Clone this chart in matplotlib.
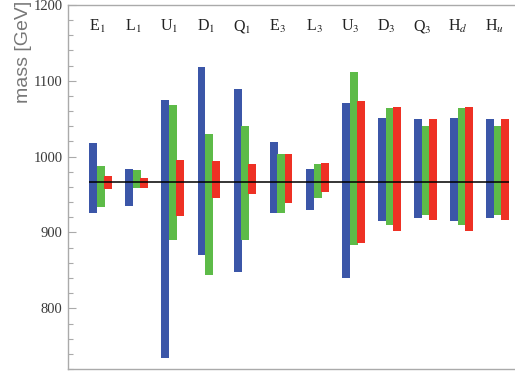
import matplotlib.pyplot as plt
import numpy as np
from matplotlib.ticker import MultipleLocator

plt.rcParams["mathtext.fontset"] = "stix"

# particle labels along the top
labels = [r"E$_1$", r"L$_1$", r"U$_1$", r"D$_1$", r"Q$_1$", r"E$_3$",
          r"L$_3$", r"U$_3$", r"D$_3$", r"Q$_3$", r"H$_d$", r"H$_u$"]

# mass ranges [GeV] for the three scenarios (low, high)
blue_lo = [926, 935, 735, 870, 848, 925, 929, 840, 915, 919, 915, 919]
blue_hi = [1018, 984, 1075, 1118, 1089, 1019, 984, 1070, 1051, 1049, 1051, 1049]
green_lo = [933, 958, 890, 844, 890, 925, 946, 884, 910, 923, 910, 923]
green_hi = [988, 982, 1068, 1030, 1040, 1004, 990, 1112, 1064, 1040, 1064, 1040]
red_lo = [957, 959, 922, 945, 951, 939, 953, 886, 902, 917, 902, 917]
red_hi = [974, 972, 995, 994, 990, 1004, 991, 1073, 1065, 1049, 1065, 1049]

reference_mass = 967

colors = {"blue": "#3b56a8", "green": "#5dbb48", "red": "#ee3124"}

fig = plt.figure(figsize=(5.15, 3.72), dpi=100)
ax = fig.add_axes([0.132, 0.008, 0.868, 0.979])

x = np.arange(len(labels))
w = 0.22
series = [
    (blue_lo, blue_hi, colors["blue"], -0.215),
    (green_lo, green_hi, colors["green"], 0.0),
    (red_lo, red_hi, colors["red"], 0.195),
]
for lo, hi, c, off in series:
    lo = np.array(lo)
    hi = np.array(hi)
    ax.bar(x + off, hi - lo, bottom=lo, width=w, color=c, linewidth=0, zorder=2)

ax.hlines(reference_mass, x[0] - 0.33, x[-1] + 0.3, color="black", linewidth=1.1, zorder=3)

for xi, lab in zip(x, labels):
    ax.text(xi - 0.1, 1171, lab, ha="center", va="center", fontsize=11.5,
            family="Liberation Serif", color="#222222")

ax.set_xlim(-0.914, 11.47)
ax.set_ylim(720, 1200)
ax.set_xticks([])
ax.yaxis.set_major_locator(MultipleLocator(100))
ax.yaxis.set_minor_locator(MultipleLocator(20))
ax.tick_params(axis="y", which="major", direction="in", length=6, width=0.8,
               color="#aaaaaa", labelsize=10.5, labelcolor="#3a3a3a", pad=4)
ax.tick_params(axis="y", which="minor", direction="in", length=3.5, width=0.8,
               color="#aaaaaa")
for t in ax.get_yticklabels():
    t.set_family("Liberation Serif")

for side in ["left", "top", "bottom"]:
    ax.spines[side].set_color("#aaaaaa")
    ax.spines[side].set_linewidth(1.0)
ax.spines["right"].set_visible(False)

# axis title sits near the top of the axis
fig.text(24 / 515, 1 - 52 / 372, "mass [GeV]", rotation=90, ha="center", va="center",
         fontsize=14, family="Liberation Sans", color="#777777")

fig.savefig("out.png", dpi=100)
